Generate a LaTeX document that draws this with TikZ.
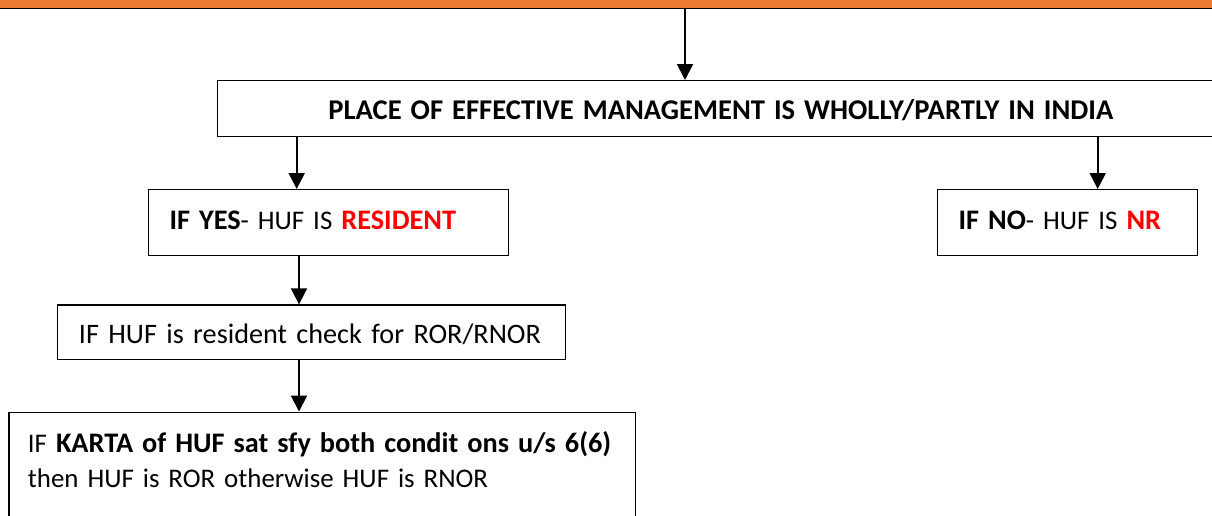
\documentclass[tikz,border=0pt]{standalone}
\usepackage{fontspec}
\setmainfont{Carlito}
\usetikzlibrary{arrows.meta}
\definecolor{barorange}{HTML}{ED7D31}
\definecolor{resred}{HTML}{FF0000}
\newcommand{\hb}[1]{{\fontsize{28.3}{35}\selectfont\bfseries #1}}
\begin{document}
\begin{tikzpicture}[x=1pt,y=-1pt,
  box/.style={draw=black, line width=1.2pt, anchor=north west, inner ysep=0pt, align=left, font=\fontsize{26.9}{35}\selectfont},
  arr/.style={line width=2pt, -{Triangle[width=16pt,length=16pt]}},
  barstyle/.style={draw=black, fill=barorange, line width=1.5pt, anchor=south west, minimum width=1240pt, minimum height=30pt, inner sep=0pt}
]
\clip (0,0) rectangle (1212,515);
\fill[white] (0,0) rectangle (1212,515);
\node[barstyle] (bar) at (-14,9) {};
\node[box, inner xsep=0pt, text width=1007pt, align=center, text height=38.5pt, text depth=17.5pt] (title) at (216.7,80) {{\fontsize{28.6}{35}\selectfont\bfseries PLACE OF EFFECTIVE MANAGEMENT IS WHOLLY/PARTLY IN INDIA}};
\node[box, inner xsep=21.3pt, text width=317.7pt, text height=39.5pt, text depth=26.2pt] (yes) at (147.7,189) {\mbox{\hb{IF YES}- HUF IS \textcolor{resred}{\hb{RESIDENT}}}};
\node[box, inner xsep=21.3pt, text width=217.4pt, text height=39.5pt, text depth=26.2pt] (no) at (936.7,189) {\mbox{\hb{IF NO}- HUF IS \textcolor{resred}{\hb{NR}}}};
\node[box, inner xsep=21.6pt, text width=465.1pt, text height=38.5pt, text depth=16.2pt, font=\fontsize{28.2}{35}\selectfont] (ror) at (56.7,304.3) {\mbox{IF HUF is resident check for ROR/RNOR}};
\node[box, inner xsep=19pt, text width=588.7pt, text height=40.5pt, text depth=120pt] (karta) at (8.3,411.5) {\mbox{IF \hb{KARTA of HUF sat sfy both condit ons u/s 6(6)}}\\ \mbox{then HUF is ROR otherwise HUF is RNOR}};
\coordinate (xa) at (685,0);
\coordinate (xb) at (296.7,0);
\coordinate (xc) at (1097.7,0);
\coordinate (xd) at (299,0);
\draw[arr] (bar.south -| xa) -- (title.north -| xa);
\draw[arr] (title.south -| xb) -- (yes.north -| xb);
\draw[arr] (title.south -| xc) -- (no.north -| xc);
\draw[arr] (yes.south -| xd) -- (ror.north -| xd);
\draw[arr] (ror.south -| xd) -- (karta.north -| xd);
\end{tikzpicture}
\end{document}
